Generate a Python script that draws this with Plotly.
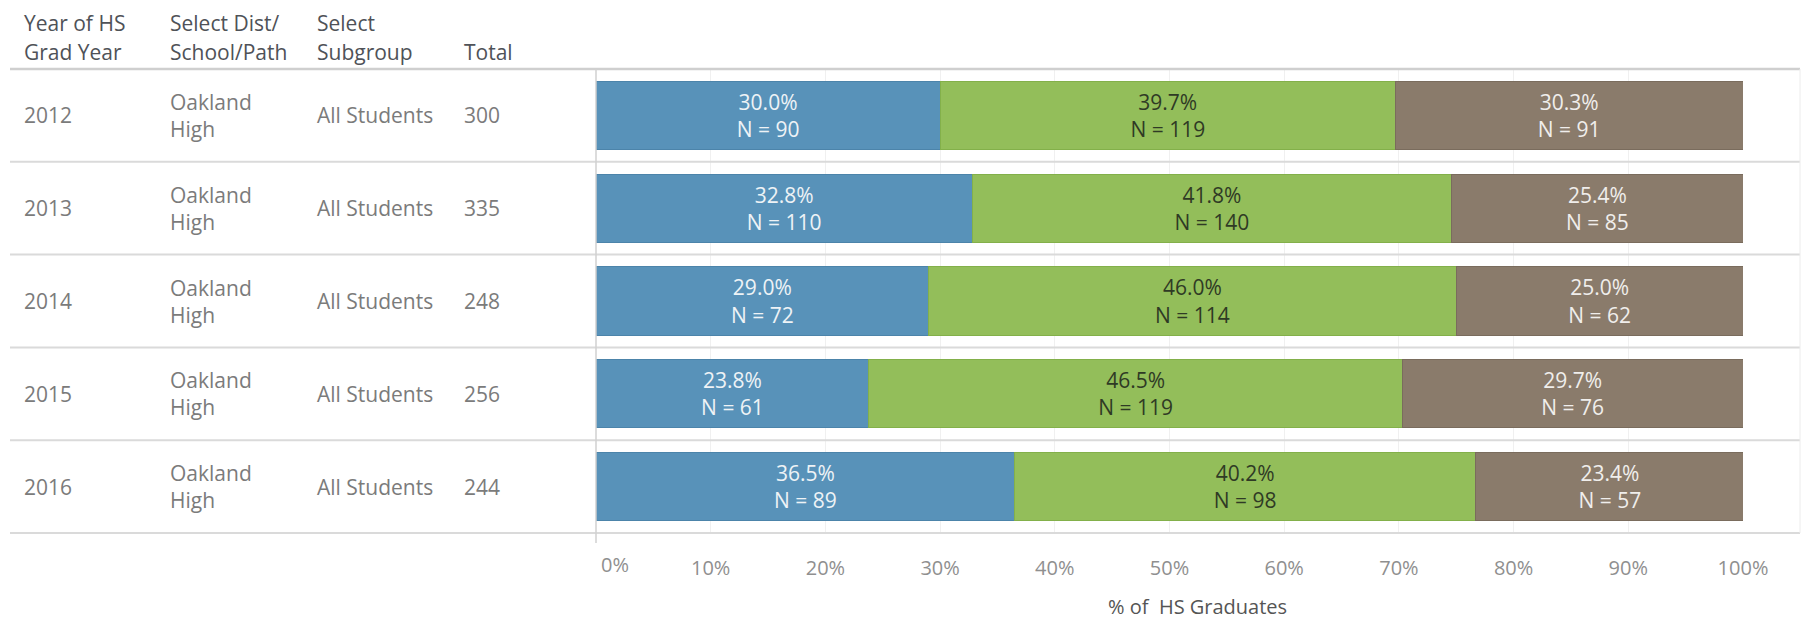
import plotly.graph_objects as go

years = ["2012", "2013", "2014", "2015", "2016"]
school = ["Oakland<br>High"] * 5
subgroup = ["All Students"] * 5
totals = [300, 335, 248, 256, 244]

pct_blue = [30.0, 32.8, 29.0, 23.8, 36.5]
pct_green = [39.7, 41.8, 46.0, 46.5, 40.2]
pct_brown = [30.3, 25.4, 25.0, 29.7, 23.4]
n_blue = [90, 110, 72, 61, 89]
n_green = [119, 140, 114, 119, 98]
n_brown = [91, 85, 62, 76, 57]

header_top = ["Year of HS", "Select Dist/", "Select", ""]
header_bottom = ["Grad Year", "School/Path", "Subgroup", "Total"]
tick_values = list(range(0, 101, 10))
x_title = "% of  HS Graduates"

W, H = 1806, 627
ML, MR, MT, MB = 596, 63, 69, 94
PW, PH = W - ML - MR, H - MT - MB
COL_X = [22, 168, 315, 462]
FONT = "'Open Sans', Lato, sans-serif"


def px(x):
    return (x - ML) / PW


def py(y):
    return (H - MB - y) / PH


fig = go.Figure()
series = [
    (pct_blue, n_blue, "#5892b9", "#4c84aa", "#eef3f6"),
    (pct_green, n_green, "#93be5a", "#83b04a", "#2f3a25"),
    (pct_brown, n_brown, "#8a7b6b", "#7a6c5d", "#f0eeec"),
]
for vals, ns, col, lcol, tcol in series:
    fig.add_trace(go.Bar(
        y=years, x=vals, orientation="h", customdata=ns,
        marker=dict(color=col, line=dict(color=lcol, width=1)),
        texttemplate="%{x:.1f}%<br>N = %{customdata}",
        textposition="inside", insidetextanchor="middle",
        textfont=dict(color=tcol, size=21, family=FONT),
        hoverinfo="skip", showlegend=False,
    ))

shapes = []
n = len(years)
for i in range(n + 1):
    shapes.append(dict(type="line", xref="paper", yref="paper",
                       x0=px(10), x1=px(1800), y0=1 - i / n, y1=1 - i / n,
                       line=dict(color="#cfcfcf" if i == 0 else "#dadada", width=2.5 if i == 0 else 2),
                       layer="above"))
shapes.append(dict(type="line", xref="paper", yref="paper", x0=0, x1=0,
                   y0=py(543), y1=1, line=dict(color="#d0d0d0", width=1.5)))
shapes.append(dict(type="line", xref="paper", yref="paper", x0=px(1800), x1=px(1800),
                   y0=0, y1=1, line=dict(color="#ececec", width=1)))

annotations = []
for top, bot, x in zip(header_top, header_bottom, COL_X):
    for text, y in [(top, 23), (bot, 52)]:
        if text:
            annotations.append(dict(text=text, xref="paper", yref="paper", x=px(x), y=py(y),
                                    xanchor="left", yanchor="middle", showarrow=False,
                                    font=dict(size=21, color="#4f5258", family=FONT)))
for i, yr in enumerate(years):
    for text, x in zip([yr, school[i], subgroup[i], str(totals[i])], COL_X):
        annotations.append(dict(text=text, xref="paper", yref="y", x=px(x), y=i,
                                xanchor="left", yanchor="middle", align="left", showarrow=False,
                                font=dict(size=21, color="#7b7b7b", family=FONT)))
# first tick label is shifted right of its gridline, as in the reference
annotations.append(dict(text=f"{tick_values[0]}%", xref="paper", yref="paper", x=px(599), y=py(564),
                        xanchor="left", yanchor="middle", showarrow=False,
                        font=dict(size=20, color="#8f8f8f", family=FONT)))
annotations.append(dict(text=x_title, xref="paper", yref="paper",
                        x=px(1197), y=py(606), xanchor="center", yanchor="middle",
                        showarrow=False, font=dict(size=20, color="#555555", family=FONT)))

fig.update_layout(
    width=W, height=H, barmode="stack", bargap=0.267,
    margin=dict(l=ML, r=MR, t=MT, b=MB),
    paper_bgcolor="white", plot_bgcolor="white",
    font=dict(family=FONT),
    shapes=shapes, annotations=annotations,
    xaxis=dict(range=[0, 100], tickmode="array", tickvals=tick_values,
               ticktext=["" if v == 0 else f"{v}%" for v in tick_values],
               showgrid=True, gridcolor="#f0f0f0", zeroline=False,
               ticks="outside", ticklen=17, tickcolor="rgba(0,0,0,0)",
               tickfont=dict(size=20, color="#8f8f8f", family=FONT), fixedrange=True),
    yaxis=dict(type="category", categoryorder="array", categoryarray=years,
               range=[n - 0.5, -0.5], showticklabels=False, showgrid=False,
               zeroline=False, fixedrange=True),
)

fig.write_html("out.html", config={"displayModeBar": False},
               post_script="document.body.style.margin='0';document.body.style.overflow='hidden';")
